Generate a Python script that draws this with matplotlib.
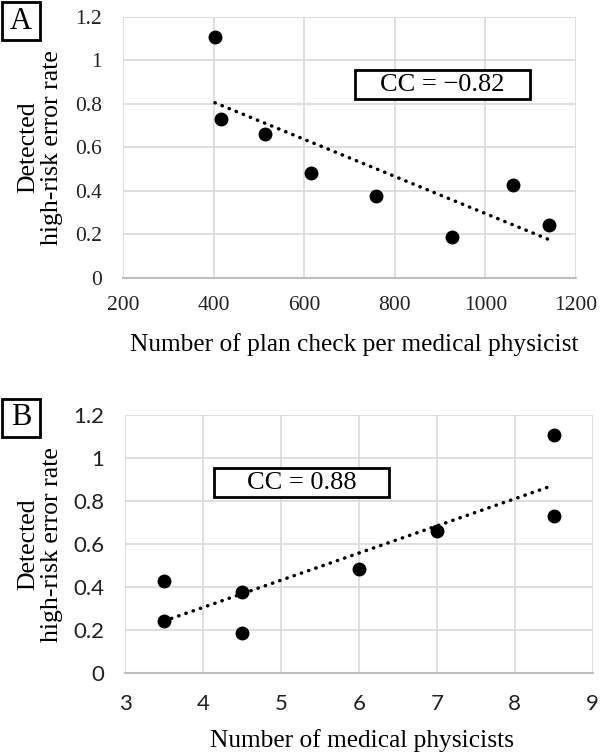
#!/usr/bin/env python3
import numpy as np
import matplotlib
matplotlib.use("Agg")
import matplotlib.pyplot as plt
from matplotlib.patches import Rectangle

### data
plan_checks = [403, 416, 514, 615, 759, 926, 1062, 1140]
physicists = [8.5, 8.5, 7, 6, 4.5, 4.5, 3.5, 3.5]
error_rate = [1.107, 0.730, 0.662, 0.484, 0.376, 0.187, 0.428, 0.244]

cc_a = "CC = \u22120.82"
cc_b = "CC = 0.88"
ylabel = "Detected\nhigh-risk error rate"
xlabel_a = "Number of plan check per medical physicist"
xlabel_b = "Number of medical physicists"
yticks = [0, 0.2, 0.4, 0.6, 0.8, 1, 1.2]
yticklabels = ["0", "0.2", "0.4", "0.6", "0.8", "1", "1.2"]

### styles
serif = "Liberation Serif"
sans = "Lato"
grid_color = "#d9d9d9"
axis_color = "#bfbfbf"
dot_style = (0, (0.1, 2.1))


def setup_ax(ax, xticks, xlim, tick_font, tick_size, xpad, ypad):
    ax.set_xlim(*xlim)
    ax.set_ylim(0, 1.2)
    ax.set_xticks(xticks)
    ax.set_yticks(yticks)
    ax.set_yticklabels(yticklabels)
    ax.grid(True, color=grid_color, linewidth=1.2)
    ax.set_axisbelow(True)
    for side in ["top", "right", "left"]:
        ax.spines[side].set_visible(False)
    ax.spines["bottom"].set_color(axis_color)
    ax.spines["bottom"].set_linewidth(1.5)
    ax.tick_params(length=0)
    ax.tick_params(axis="x", pad=xpad)
    ax.tick_params(axis="y", pad=ypad)
    for lab in ax.get_xticklabels() + ax.get_yticklabels():
        lab.set_fontfamily(tick_font)
        lab.set_fontsize(tick_size)
        lab.set_color("#222222")


def scatter_trend(ax, x, y):
    ax.plot(x, y, linestyle="none", marker="o", markersize=9,
            color="black", zorder=4)
    k, b = np.polyfit(x, y, 1)
    xs = np.array([min(x), max(x)])
    ax.plot(xs, k * xs + b, linestyle=dot_style, linewidth=2.5,
            dash_capstyle="round", color="black", zorder=3)


def cc_box(ax, x0, x1, y0, y1, text):
    ax.add_patch(Rectangle((x0, y0), x1 - x0, y1 - y0, transform=ax.transAxes,
                           facecolor="white", edgecolor="black",
                           linewidth=2, zorder=5))
    ax.text((x0 + x1) / 2, (y0 + y1) / 2, text, transform=ax.transAxes,
            ha="center", va="center", fontfamily=serif, fontsize=19, zorder=6)


def panel_label(fig, x, y, w, h, text):
    fig.patches.append(Rectangle((x, y), w, h, transform=fig.transFigure,
                                 facecolor="white", edgecolor="black",
                                 linewidth=2))
    fig.text(x + w / 2, y + h / 2, text, ha="center", va="center",
             fontfamily=serif, fontsize=22)


fig = plt.figure(figsize=(6, 7.55), dpi=100)

### panel A
ax_a = fig.add_axes([0.205, 0.6318, 0.755, 0.3457])
setup_ax(ax_a, [200, 400, 600, 800, 1000, 1200], (200, 1200), serif, 15.5, 13, 15)
scatter_trend(ax_a, plan_checks, error_rate)
cc_box(ax_a, 0.512, 0.898, 0.685, 0.797, cc_a)
ax_a.text(-0.183, 0.5, ylabel, transform=ax_a.transAxes, rotation=90,
          ha="center", va="center", fontfamily=serif, fontsize=18.5,
          linespacing=1.1)
fig.text(0.59, 1 - 345 / 755, xlabel_a, ha="center", va="center",
         fontfamily=serif, fontsize=18.3)
panel_label(fig, 0.0033, 0.947, 0.0633, 0.0503, "A")

### panel B
ax_b = fig.add_axes([0.2088, 0.1082, 0.779, 0.3421])
setup_ax(ax_b, [3, 4, 5, 6, 7, 8, 9], (3, 9), sans, 16, 15, 15)
scatter_trend(ax_b, physicists, error_rate)
cc_box(ax_b, 0.190, 0.565, 0.681, 0.796, cc_b)
ax_b.text(-0.1825, 0.5, ylabel, transform=ax_b.transAxes, rotation=90,
          ha="center", va="center", fontfamily=serif, fontsize=18.5,
          linespacing=1.1)
fig.text(0.604, 1 - 741 / 755, xlabel_b, ha="center", va="center",
         fontfamily=serif, fontsize=18.3)
panel_label(fig, 0.0033, 0.4216, 0.0633, 0.0499, "B")

fig.savefig("out.png", dpi=100)
